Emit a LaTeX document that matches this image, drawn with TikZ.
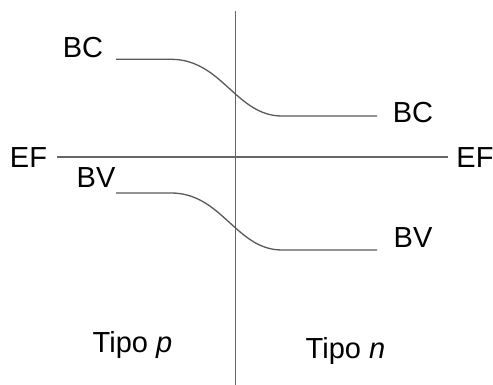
\documentclass[tikz,border=0pt]{standalone}
\usepackage{fontspec}
\setmainfont{Liberation Sans}
\begin{document}
\begin{tikzpicture}[x=1pt,y=-1pt,
  band/.style={draw=black!65, line width=1.3pt},
  axis/.style={draw=black!60, line width=1.3pt},
  lbl/.style={inner sep=0pt, font=\fontsize{29}{31}\selectfont},
]
\useasboundingbox (0,0) rectangle (493,385);

% junction line and Fermi level
\coordinate (jt) at (235.7,11);
\coordinate (jb) at (235.7,385);
\draw[axis] (jt) -- (jb);
\coordinate (efl) at (57,157);
\coordinate (efr) at (448,157);
\draw[axis] (efl) -- (efr);

% conduction band
\coordinate (bc1) at (116,59.3);
\coordinate (bc2) at (171,59.3);
\coordinate (bc3) at (282,116);
\coordinate (bc4) at (377,116);
\draw[band] (bc1) -- (bc2) .. controls (222,59.3) and (236,116) .. (bc3) -- (bc4);

% valence band
\coordinate (bv1) at (116,193);
\coordinate (bv2) at (171,193);
\coordinate (bv3) at (282,250);
\coordinate (bv4) at (377,250);
\draw[band] (bv1) -- (bv2) .. controls (222,193) and (236,250) .. (bv3) -- (bv4);

% labels
\node[lbl] (tbcl) at (83,48) {BC};
\node[lbl] (tbcr) at (413,112.5) {BC};
\node[lbl] (tefl) at (28.5,157.5) {EF};
\node[lbl] (tefr) at (475,157.5) {EF};
\node[lbl] (tbvl) at (96,178) {BV};
\node[lbl] (tbvr) at (413,238) {BV};
\node[lbl, anchor=base] (tp) at (132.5,352) {Tipo \textit{p}};
\node[lbl, anchor=base] (tn) at (345.5,358) {Tipo \textit{n}};
\end{tikzpicture}
\end{document}
